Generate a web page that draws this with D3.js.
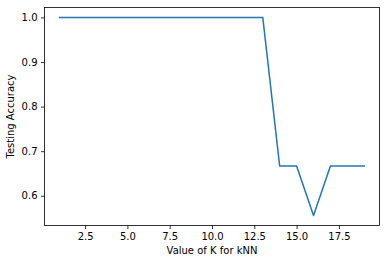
<!DOCTYPE html>
<html><head><meta charset="utf-8">
<script src="https://cdn.jsdelivr.net/npm/d3@7"></script>
<style>body{margin:0;background:#fff}svg{display:block}text{font-family:"DejaVu Sans",sans-serif}</style>
</head><body>
<script>
const kValues = [1,2,3,4,5,6,7,8,9,10,11,12,13,14,15,16,17,18,19];
const accuracy = [1,1,1,1,1,1,1,1,1,1,1,1,1,0.6667,0.6667,0.5556,0.6667,0.6667,0.6667];
const xTicks = [2.5,5.0,7.5,10.0,12.5,15.0,17.5];
const yTicks = [0.6,0.7,0.8,0.9,1.0];

const W=390,H=264;
const L=44.5,R=379.5,T=7.5,B=225.5;
const svg=d3.select("body").append("svg").attr("width",W).attr("height",H);
const x=d3.scaleLinear().domain([0.1,19.9]).range([L,R]);
const y=d3.scaleLinear().domain([0.53333,1.02222]).range([B,T]);

const xa=svg.append("g").attr("transform",`translate(0,${B})`)
  .call(d3.axisBottom(x).tickValues(xTicks).tickFormat(d3.format(".1f")).tickSize(3.5).tickPadding(3.5));
const ya=svg.append("g").attr("transform",`translate(${L},0)`)
  .call(d3.axisLeft(y).tickValues(yTicks).tickFormat(d3.format(".1f")).tickSize(3.5).tickPadding(3.5));
[xa,ya].forEach(a=>{a.select(".domain").remove();a.selectAll("line").attr("stroke","#000").attr("stroke-width",0.8);
  a.selectAll("text").attr("font-size",10).attr("fill","#000").attr("font-family","DejaVu Sans");});

svg.append("path").datum(kValues.map((k,i)=>[k,accuracy[i]]))
  .attr("d",d3.line().x(d=>x(d[0])).y(d=>y(d[1])))
  .attr("fill","none").attr("stroke","#1f77b4").attr("stroke-width",1.5).attr("stroke-linejoin","round").attr("stroke-linecap","square");

svg.append("rect").attr("x",L).attr("y",T).attr("width",R-L).attr("height",B-T)
  .attr("fill","none").attr("stroke","#000").attr("stroke-width",0.8);

svg.append("text").attr("x",(L+R)/2).attr("y",254).attr("text-anchor","middle").attr("font-size",10).text("Value of K for kNN");
svg.append("text").attr("transform",`translate(13.5,${(T+B)/2}) rotate(-90)`).attr("text-anchor","middle").attr("font-size",10).text("Testing Accuracy");
</script>
</body></html>
